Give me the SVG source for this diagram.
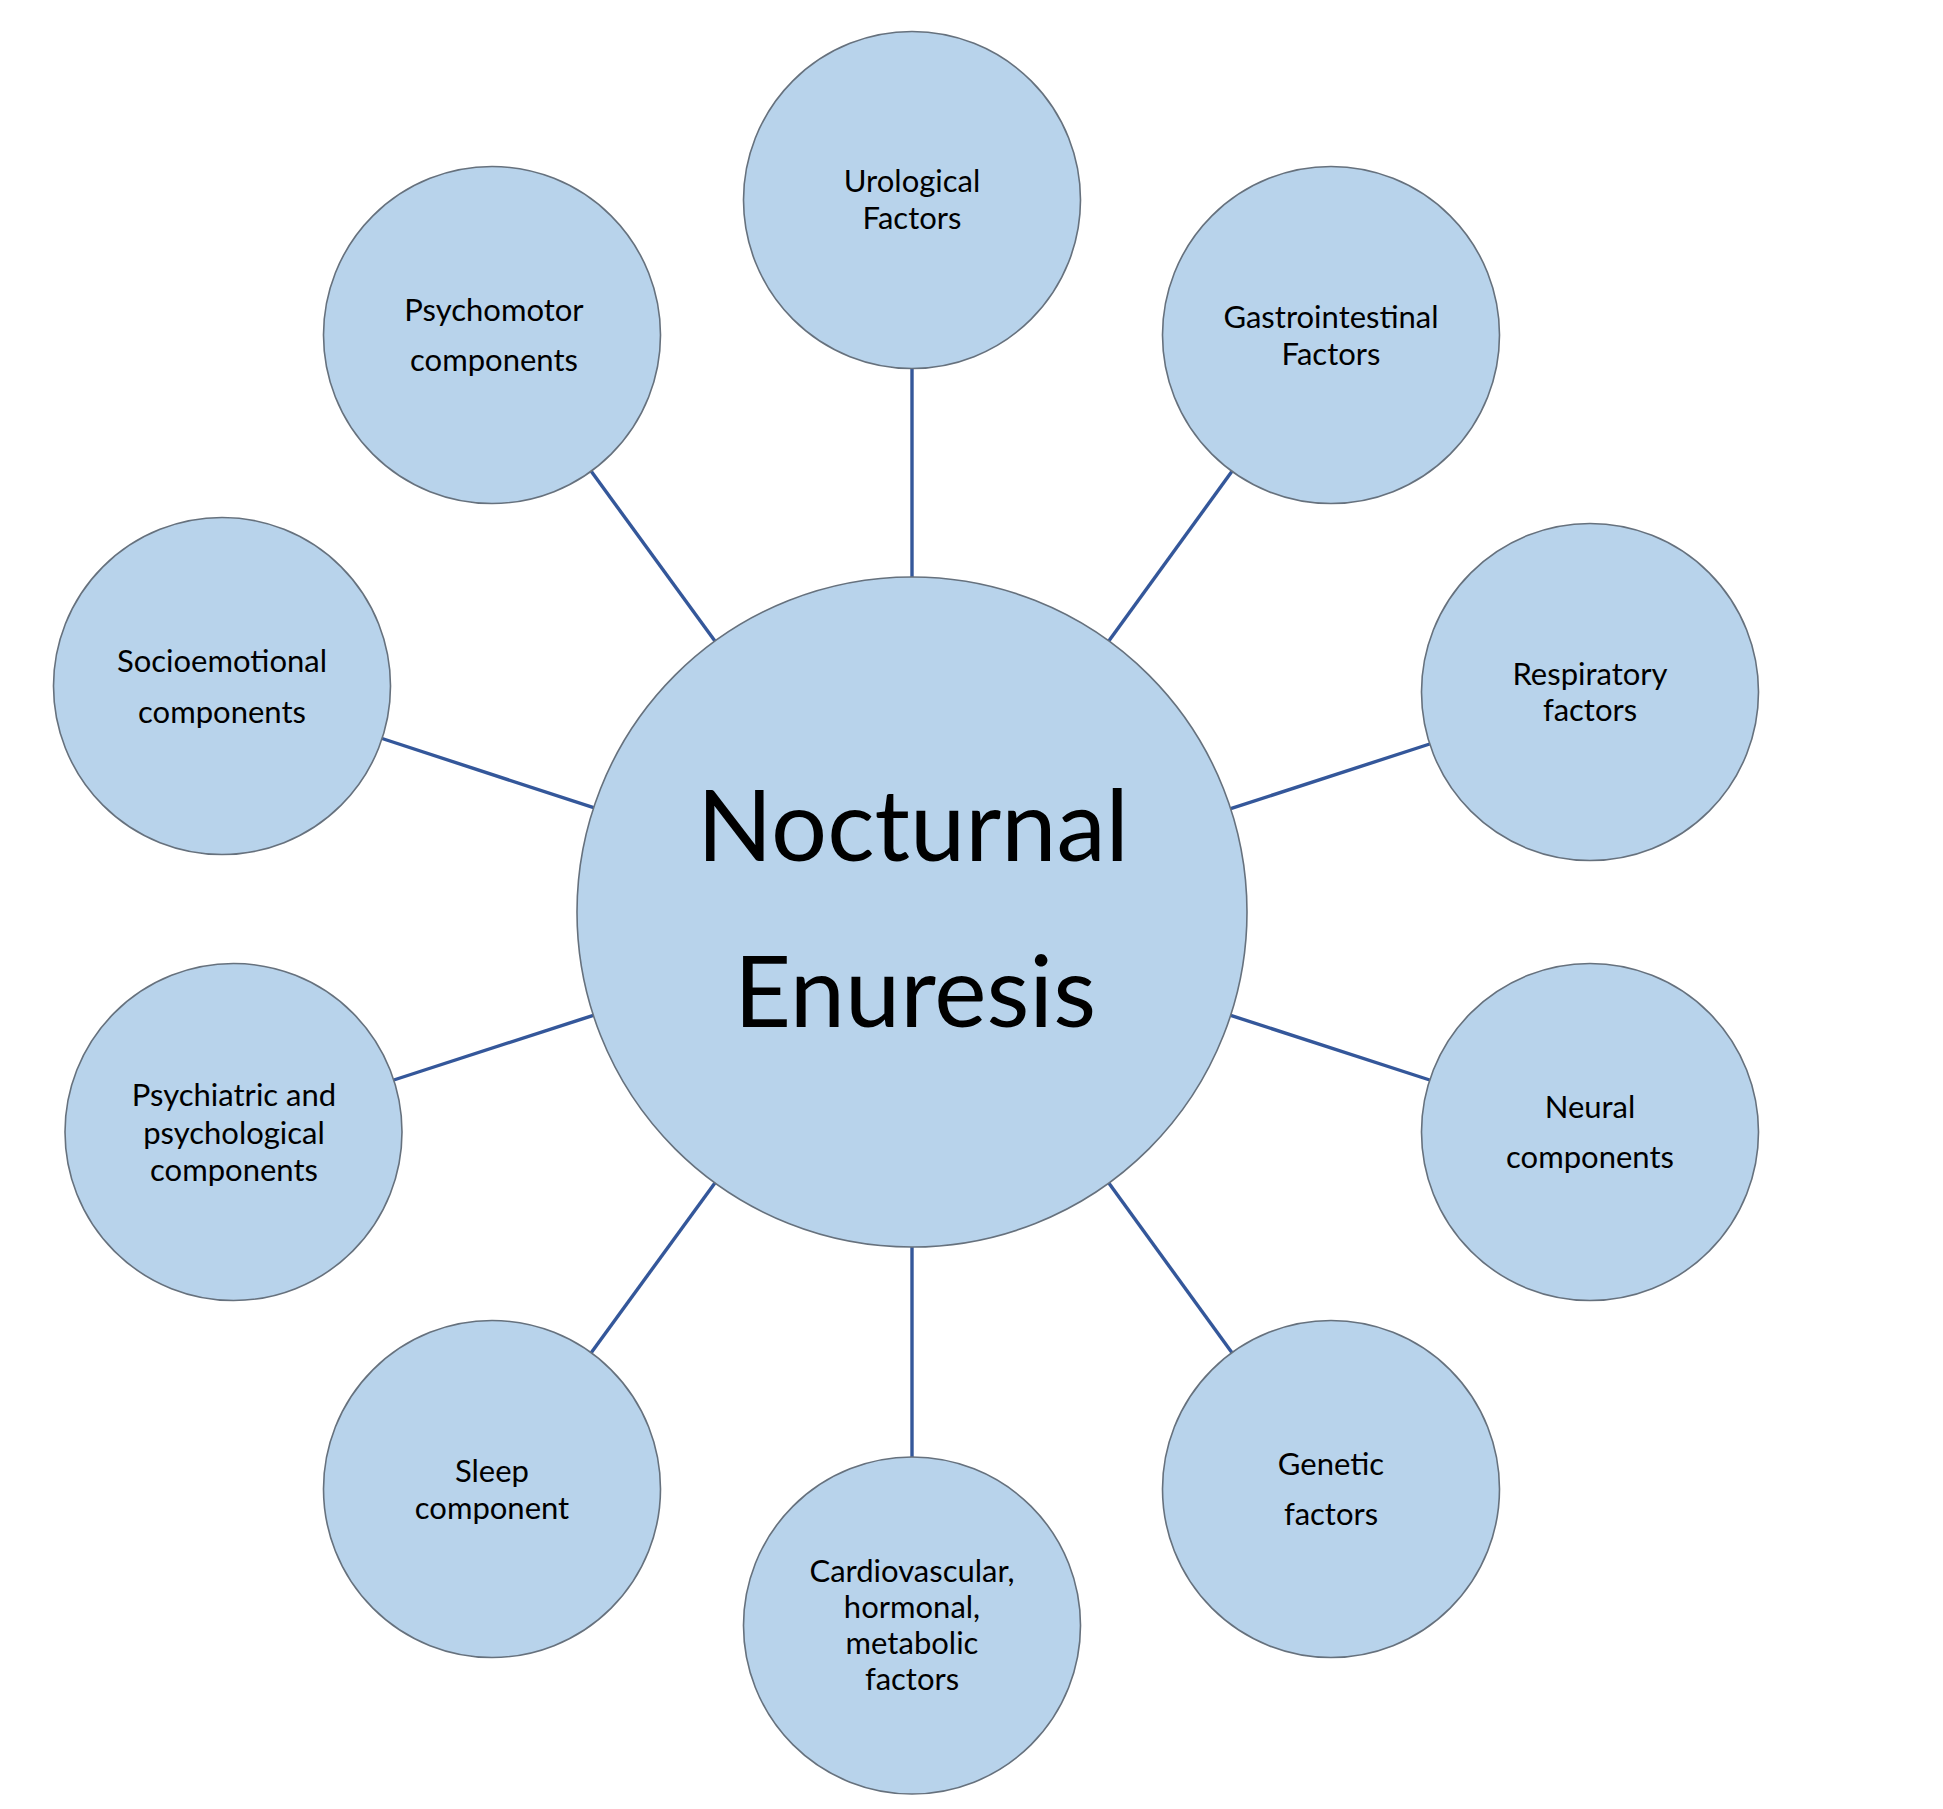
<svg xmlns="http://www.w3.org/2000/svg" width="1943" height="1809" viewBox="0 0 1943 1809">
<style>
.bg{fill:#ffffff}
.node circle{fill:#b8d3eb;stroke:#66717d;stroke-width:1.6}
.node text{font-family:Lato,"Open Sans","Liberation Sans",sans-serif;font-size:31px;fill:#000;text-anchor:middle}
#center text{font-size:99px}
#connectors line{stroke:#34579a;stroke-width:3.4;stroke-linecap:butt}
</style>
<rect class="bg" x="0" y="0" width="1943" height="1809"/>
<g id="connectors">
<line x1="912" y1="368.5" x2="912" y2="577"/>
<line x1="591.2" y1="471.2" x2="714.9" y2="641.1"/>
<line x1="1232" y1="471.3" x2="1108.8" y2="640.9"/>
<line x1="382.1" y1="738.5" x2="593.6" y2="807.7"/>
<line x1="1429.7" y1="744" x2="1230.7" y2="808.6"/>
<line x1="393.8" y1="1080" x2="593.4" y2="1015.3"/>
<line x1="1429.7" y1="1080" x2="1230.7" y2="1015.4"/>
<line x1="591.2" y1="1352.8" x2="714.9" y2="1182.9"/>
<line x1="1232" y1="1352.7" x2="1108.8" y2="1183.1"/>
<line x1="912" y1="1247" x2="912" y2="1457"/>
</g>
<g id="center" class="node">
<circle cx="912" cy="912" r="335"/>
<text x="913" y="861">Nocturnal</text>
<text x="915" y="1027">Enuresis</text>
</g>
<g id="urological" class="node">
<circle cx="912" cy="200" r="168.5"/>
<text x="912" y="191.5">Urological</text>
<text x="912" y="228.5">Factors</text>
</g>
<g id="psychomotor" class="node">
<circle cx="492" cy="335" r="168.5"/>
<text x="494" y="321">Psychomotor</text>
<text x="494" y="371">components</text>
</g>
<g id="gastrointestinal" class="node">
<circle cx="1331" cy="335" r="168.5"/>
<text x="1331" y="328">Gastrointestinal</text>
<text x="1331" y="365">Factors</text>
</g>
<g id="socioemotional" class="node">
<circle cx="222" cy="686" r="168.5"/>
<text x="222" y="672">Socioemotional</text>
<text x="222" y="723">components</text>
</g>
<g id="respiratory" class="node">
<circle cx="1590" cy="692" r="168.5"/>
<text x="1590" y="685">Respiratory</text>
<text x="1590" y="721">factors</text>
</g>
<g id="psychiatric" class="node">
<circle cx="233.5" cy="1132" r="168.5"/>
<text x="234" y="1106">Psychiatric and</text>
<text x="234" y="1143.5">psychological</text>
<text x="234" y="1181">components</text>
</g>
<g id="neural" class="node">
<circle cx="1590" cy="1132" r="168.5"/>
<text x="1590" y="1118">Neural</text>
<text x="1590" y="1168">components</text>
</g>
<g id="sleep" class="node">
<circle cx="492" cy="1489" r="168.5"/>
<text x="492" y="1481.5">Sleep</text>
<text x="492" y="1518.5">component</text>
</g>
<g id="genetic" class="node">
<circle cx="1331" cy="1489" r="168.5"/>
<text x="1331" y="1474.5">Genetic</text>
<text x="1331" y="1524.5">factors</text>
</g>
<g id="cardiovascular" class="node">
<circle cx="912" cy="1625.5" r="168.5"/>
<text x="912" y="1581.5">Cardiovascular,</text>
<text x="912" y="1618">hormonal,</text>
<text x="912" y="1654">metabolic</text>
<text x="912" y="1690">factors</text>
</g>
</svg>
